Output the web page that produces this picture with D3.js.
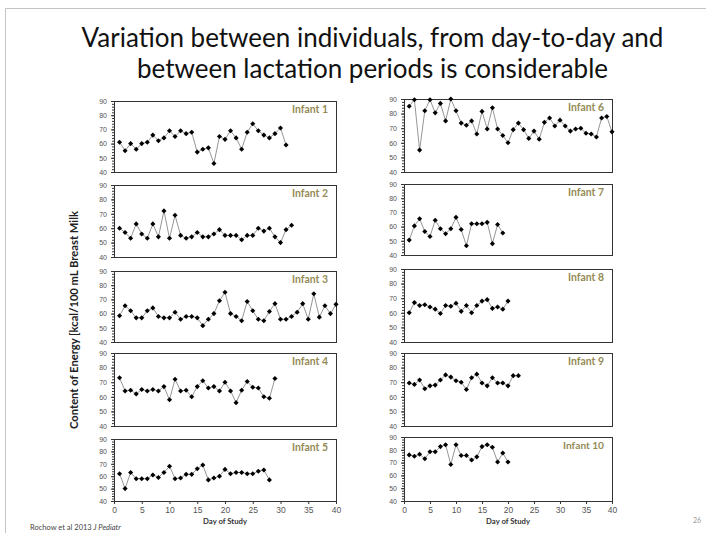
<!DOCTYPE html>
<html>
<head>
<meta charset="utf-8">
<title>Energy content of breast milk</title>
<script src="https://cdn.jsdelivr.net/npm/d3@7"></script>
<style>
  body { margin: 0; background: #fff; }
  svg { display: block; }
</style>
</head>
<body>
<script>
// energy content (kcal/100 mL) per study day, day 1..n
var infant1 = [61,55,60,56,60,61,66,62,64,69,65,69,67,68,54,56,57,46,65,63,69,64,56,68,74,69,66,64,67,71,59];
var infant2 = [60,57,53,63,56,53,63,54,72,53,69,55,53,54,57,54,54,56,59,55,55,55,52,55,55,60,58,60,54,50,59,62];
var infant3 = [58.5,65.5,62,57,57,62,64,58,57,57,61,56,58,58,57,51.5,56,60,69,75,60,58,55,68.5,62,56,55,61.5,67,56,56,58,61,67,56,74,57.5,65.5,60,66.5];
var infant4 = [73,64,64.5,62,65,64,65,64,67,58,72,64,64.5,60,67,71,66,67,64,70,64,56,64.5,70.5,66.5,66,60,59,72.5];
var infant5 = [62,50,63,58,58,58,61,59,63,68,58,58.5,61.5,61.5,66,69,57,58.5,60,65.5,62,63,63,62,62,64,65,57];
var infant6 = [85,89.5,55,82,89.5,80.5,87,75,90,82,73.5,72,75,66,81.5,69.5,84,69.5,65,60,69,73.5,69,63,68,62.5,74,77,71.5,75.5,71.5,68,69.5,70,66.5,66,64,77,78,67.5];
var infant7 = [50.5,60.5,65.5,56.5,53,64.5,58.5,55,58.5,66.5,58,46.5,62,62,62,63,48,61.5,55.5];
var infant8 = [60,67,65,65.5,64,62.5,59.5,65,64.5,66.5,61,65,60,65,68,69,63,64,62.5,68];
var infant9 = [69.5,68.5,71.5,65.5,67.5,68,71.5,75,73.5,71,70,65,73,75.5,69.5,67.5,73,69.5,69.5,67.5,74.5,74.5];
var infant10 = [76,75,76.5,73,78.5,78.5,82.5,84,68.5,84,75.5,75.5,72,74.5,82.5,84,82,70.5,77.5,70.5];

var infantNames = ["Infant 1","Infant 2","Infant 3","Infant 4","Infant 5",
                   "Infant 6","Infant 7","Infant 8","Infant 9","Infant 10"];
var infantSeries = [infant1, infant2, infant3, infant4, infant5,
                    infant6, infant7, infant8, infant9, infant10];

var yTicks = [40, 50, 60, 70, 80, 90];
var xTicks = [0, 5, 10, 15, 20, 25, 30, 35, 40];

var titleLines = ["Variation between individuals, from day-to-day and",
                  "between lactation periods is considerable"];
var yTitle = "Content of Energy [kcal/100 mL Breast Milk";
var xTitle = "Day of Study";

var width = 706, height = 533;

// plot boxes (left column panels 1-5, right column 6-10)
var cols = [{x0: 114, x1: 336}, {x0: 404, x1: 612}];
var rowsLeft  = [[101,172],[185,257],[271,342],[353,426],[439,501]];
var rowsRight = [[99,172],[184,255],[269,342],[353,426],[437,501]];

var svg = d3.select("body").append("svg")
    .attr("width", width)
    .attr("height", height);

// fit a text element to a target width by changing its font size
function fitWidth(sel, base, target) {
  var w = sel.node().getComputedTextLength();
  var fs = base * target / w;
  sel.style("font-size", fs.toFixed(2) + "px");
  return fs;
}

// slide frame
svg.append("path")
    .attr("d", "M5.5," + height + "V8.5H" + width)
    .attr("fill", "none")
    .attr("stroke", "#c4c4c4")
    .attr("stroke-width", 1);

// title: size fitted on the first line, both lines share it
var titleBase = [47, 78];
var titleText = titleLines.map(function(t, i) {
  return svg.append("text")
      .attr("x", 372.5)
      .attr("y", titleBase[i])
      .attr("text-anchor", "middle")
      .style("font-family", "Lato, 'Open Sans', sans-serif")
      .style("font-size", "24px")
      .attr("fill", "#111")
      .text(t);
});
var titleSize = Math.min(26, fitWidth(titleText[0], 24, 615));
titleText.forEach(function(t) { t.style("font-size", titleSize.toFixed(2) + "px"); });

infantSeries.forEach(function(values, k) {
  var col = cols[k < 5 ? 0 : 1];
  var row = (k < 5 ? rowsLeft : rowsRight)[k % 5];

  var x = d3.scaleLinear().domain([0, 40]).range([col.x0, col.x1]);
  var y = d3.scaleLinear().domain([40, 90]).range([row[1], row[0]]);

  var g = svg.append("g");

  // y axis with minor ticks
  var ya = g.append("g")
      .attr("transform", "translate(" + col.x0 + ",0)")
      .call(d3.axisLeft(y).tickValues(yTicks).tickSize(3).tickPadding(4));
  ya.select(".domain").remove();
  ya.selectAll("line").attr("stroke", "#333");
  ya.selectAll("text")
      .style("font-family", "'Liberation Sans', Arial, sans-serif")
      .style("font-size", "7px")
      .attr("fill", "#555");
  g.append("g")
      .attr("transform", "translate(" + col.x0 + ",0)")
      .call(d3.axisLeft(y).tickValues(d3.range(40, 91, 2)).tickSize(2).tickFormat(""))
      .call(function(s) { s.select(".domain").remove(); s.selectAll("line").attr("stroke", "#333"); });

  // x axis only on bottom panels
  if (k % 5 === 4) {
    var xa = g.append("g")
        .attr("transform", "translate(0," + row[1] + ")")
        .call(d3.axisBottom(x).tickValues(xTicks).tickSize(3).tickPadding(3));
    xa.select(".domain").remove();
    xa.selectAll("line").attr("stroke", "#333");
    xa.selectAll("text")
        .style("font-family", "'Liberation Sans', Arial, sans-serif")
        .style("font-size", "8.5px")
        .attr("fill", "#555");
    var xt = g.append("text")
        .attr("x", (col.x0 + col.x1) / 2)
        .attr("y", 524)
        .attr("text-anchor", "middle")
        .style("font-family", "Lato, sans-serif")
        .style("font-weight", "bold")
        .style("font-size", "9px")
        .attr("fill", "#333")
        .text(xTitle);
    fitWidth(xt, 9, 44);
  }

  // plot box
  g.append("rect")
      .attr("x", col.x0 + 0.5)
      .attr("y", row[0] + 0.5)
      .attr("width", col.x1 - col.x0)
      .attr("height", row[1] - row[0])
      .attr("fill", "none")
      .attr("stroke", "#333")
      .attr("stroke-width", 1);

  var line = d3.line()
      .x(function(d, i) { return x(i + 1); })
      .y(function(d) { return y(d); });

  g.append("path")
      .datum(values)
      .attr("d", line)
      .attr("fill", "none")
      .attr("stroke", "#8a8a8a")
      .attr("stroke-width", 0.9);

  // diamond markers
  var diamond = d3.symbol().type(d3.symbolSquare).size(13);
  g.selectAll("path.pt")
      .data(values)
      .enter()
      .append("path")
      .attr("class", "pt")
      .attr("d", diamond)
      .attr("transform", function(d, i) {
        return "translate(" + x(i + 1) + "," + y(d) + ") rotate(45)";
      })
      .attr("fill", "#000");

  var lab = g.append("text")
      .attr("x", col.x1 - 8)
      .attr("y", row[0] + 12)
      .attr("text-anchor", "end")
      .style("font-family", "Lato, sans-serif")
      .style("font-weight", "bold")
      .style("font-size", "10px")
      .attr("fill", "#948a54")
      .text(infantNames[k]);
  fitWidth(lab, 10, k === 9 ? 41 : 36);
});

// y axis title
var yt = svg.append("text")
    .attr("transform", "translate(78,320) rotate(-90)")
    .attr("text-anchor", "middle")
    .style("font-family", "Lato, sans-serif")
    .style("font-weight", "bold")
    .style("font-size", "10px")
    .attr("fill", "#222")
    .text(yTitle);
fitWidth(yt, 10, 218);

// source and page number
var src = svg.append("text")
    .attr("x", 30)
    .attr("y", 530)
    .style("font-family", "Lato, sans-serif")
    .style("font-size", "7.5px")
    .attr("fill", "#444");
src.append("tspan").text("Rochow et al 2013 ");
src.append("tspan").style("font-style", "italic").text("J Pediatr");

svg.append("text")
    .attr("x", 701)
    .attr("y", 523)
    .attr("text-anchor", "end")
    .style("font-family", "Lato, sans-serif")
    .style("font-size", "7px")
    .attr("fill", "#999")
    .text("26");
</script>
</body>
</html>
